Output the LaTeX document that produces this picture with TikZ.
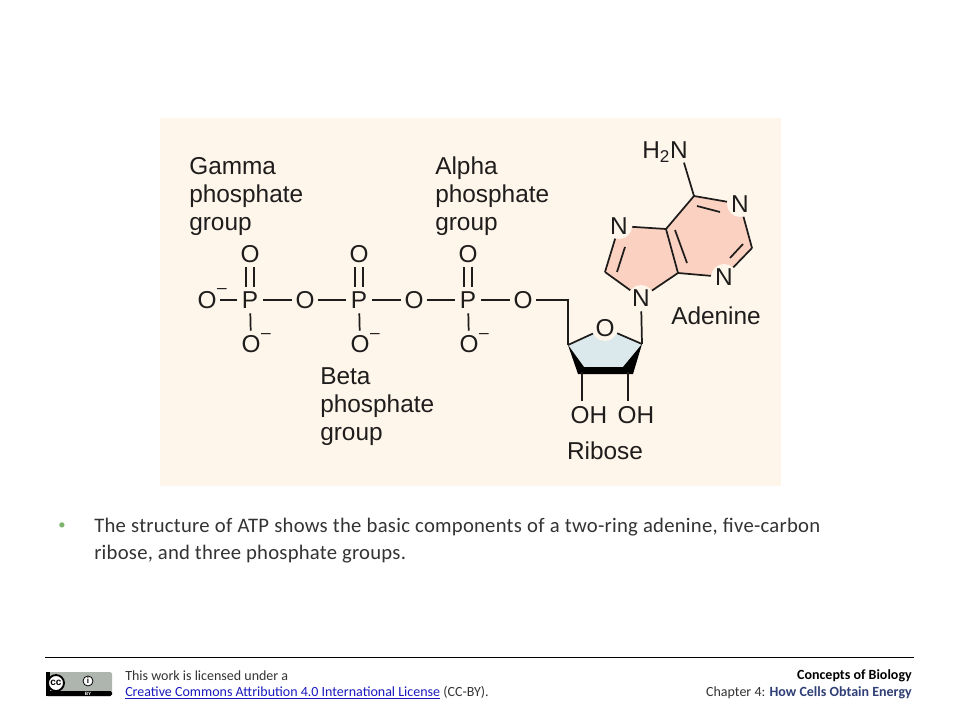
\documentclass[tikz,border=0pt]{standalone}
\usepackage{fontspec}
\setmainfont{Liberation Sans}
\newfontfamily\carl{Carlito}
\newfontfamily\carlbody[LetterSpace=1.2]{Carlito}
\definecolor{panelbg}{HTML}{FEF5EB}
\definecolor{pinkfill}{HTML}{FBD2C2}
\definecolor{bluefill}{HTML}{DCE9EC}
\definecolor{ink}{HTML}{1F1D1C}
\definecolor{bodyc}{HTML}{333333}
\definecolor{bulletc}{HTML}{7DB46C}
\definecolor{linkc}{HTML}{1A1AC0}
\definecolor{navyc}{HTML}{2F3F77}
\definecolor{badge}{HTML}{AEB4AE}
\tikzset{
  atom/.style={circle,inner sep=0pt,minimum size=19.5pt,fill=panelbg,text=ink,font=\fontsize{18.3}{21}\selectfont},
  chem/.style={inner sep=0pt,text=ink,font=\fontsize{18.3}{21}\selectfont},
  lbl/.style={inner sep=0pt,text=ink,align=left,anchor=west,font=\fontsize{18.3}{21}\selectfont},
  charge/.style={inner sep=0pt,text=ink,font=\fontsize{13}{13}\selectfont},
  bond/.style={draw=ink,line width=1.3pt},
  foot/.style={inner sep=0pt,text=bodyc,font=\carl\fontsize{10.5}{12}\selectfont},
}
\begin{document}
\begin{tikzpicture}[x=0.75pt,y=-0.75pt]
\useasboundingbox (0,0) rectangle (960,720);
\fill[white] (0,0) rectangle (960,720);
\fill[panelbg] (160,118) rectangle (781,486);
% ring fills
\fill[pinkfill] (694,196) -- (740,204) -- (752,248) -- (724,277) -- (678,273) -- (641,298) -- (605,272) -- (619,226) -- (666,229) -- cycle;
\fill[bluefill] (568,345) -- (605,328) -- (642,344) -- (623,367) -- (584,367) -- cycle;
% labels
\node[lbl] (gamma) at (189,197) {Gamma\\phosphate\\group};
\node[lbl] (alpha) at (435,196) {Alpha\\phosphate\\group};
\node[lbl] (beta) at (320,407) {Beta\\phosphate\\group};
\node[lbl] (adeninelbl) at (671,316) {Adenine};
\node[chem] (riboselbl) at (605,451) {Ribose};
% phosphate atoms
\node[atom] (Oa) at (207,300) {O};
\node[atom] (P1) at (250,300) {P};
\node[atom] (O12) at (305,300) {O};
\node[atom] (P2) at (359,300) {P};
\node[atom] (O23) at (414,300) {O};
\node[atom] (P3) at (468,300) {P};
\node[atom] (O35) at (523,300) {O};
\node[atom] (T1) at (250,254) {O};
\node[atom] (T2) at (359,254) {O};
\node[atom] (T3) at (468,254) {O};
\node[atom] (B1) at (251,344) {O};
\node[atom] (B2) at (360,344) {O};
\node[atom] (B3) at (469,344) {O};
\node[charge] (m0) at (222,291) {–};
\node[charge] (m1) at (266,336) {–};
\node[charge] (m2) at (375,336) {–};
\node[charge] (m3) at (484,336) {–};
\draw[bond] (Oa) -- (P1);
\draw[bond] (P1) -- (O12);
\draw[bond] (O12) -- (P2);
\draw[bond] (P2) -- (O23);
\draw[bond] (O23) -- (P3);
\draw[bond] (P3) -- (O35);
\foreach \t/\p/\b in {T1/P1/B1,T2/P2/B2,T3/P3/B3}{
  \draw[bond] ([xshift=-3pt]\t.south) -- ([xshift=-3pt]\p.north);
  \draw[bond] ([xshift=3pt]\t.south) -- ([xshift=3pt]\p.north);
  \draw[bond] (\p) -- (\b);
}
% ribose
\coordinate (cfive) at (568,300);
\coordinate (r1) at (568,345);
\coordinate (r3) at (642,344);
\coordinate (r4) at (582,372);
\coordinate (r5) at (628,372);
\fill[black] (568,345) -- (578,374) -- (633,374) -- (642,344) -- (623,367) -- (584,367) -- cycle;
\node[atom] (Or) at (605,328) {O};
\node[chem] (oh1) at (589,415) {OH};
\node[chem] (oh2) at (636,415) {OH};
\draw[bond] (O35) -- (cfive) -- (r1);
\draw[bond] (r1) -- (Or);
\draw[bond] (Or) -- (r3);
\draw[bond] (r4) -- ([yshift=4pt]r4 |- oh1.north);
\draw[bond] (r5) -- ([yshift=4pt]r5 |- oh2.north);
% adenine
\coordinate (c6) at (694,196);
\coordinate (c2) at (752,248);
\coordinate (c4) at (678,273);
\coordinate (c5) at (666,229);
\coordinate (c8) at (605,272);
\node[atom] (N1) at (740,204) {N};
\node[atom] (N3) at (724,277) {N};
\node[atom] (N7) at (619,226) {N};
\node[atom] (N9) at (641,298) {N};
\node[chem] (nh) at (665,152) {H\textsubscript{2}N};
\draw[bond] (N9) -- (r3);
\draw[bond] ([xshift=-3pt]nh.south east) -- (c6);
\draw[bond] (c6) -- (N1);
\draw[bond] (N1) -- (c2);
\draw[bond] (c2) -- (N3);
\draw[bond] (N3) -- (c4);
\draw[bond] (c4) -- (c5);
\draw[bond] (c5) -- (c6);
\draw[bond] (c5) -- (N7);
\draw[bond] (N7) -- (c8);
\draw[bond] (c8) -- (N9);
\draw[bond] (N9) -- (c4);
\draw[bond] (697,206) -- (720,212);
\draw[bond] (743,244) -- (730,258);
\draw[bond] (675,230) -- (687,263);
\draw[bond] (625,247) -- (617,272);
% body
\node[inner sep=0pt,text=bulletc,font=\carl\fontsize{11}{20}\selectfont] (bullet) at (62,526) {•};
\node[inner sep=0pt,anchor=north west,text width=544.5pt,text=bodyc,font=\carlbody\fontsize{15.5}{20.2}\selectfont,align=justify] (body) at (94,518)
 {The structure of ATP shows the basic components of a two-ring adenine, five-carbon\linebreak ribose, and three phosphate groups.};
% footer
\coordinate (ruleL) at (45,657);
\coordinate (ruleR) at (914,657);
\draw[black,line width=0.6pt] (ruleL) -- (ruleR);
\fill[badge,rounded corners=1.2pt] (46,672) rectangle (112,696);
\fill[black,rounded corners=1.2pt] (46,691) rectangle (112,696);
\fill[black] (46,672) rectangle (50,696);
\node[circle,fill=white,draw=black,line width=1.4pt,inner sep=0pt,minimum size=12pt,font=\fontsize{7.5}{8}\bfseries\selectfont] (cc) at (56,683) {cc};
\node[circle,fill=white,draw=black,line width=0.6pt,inner sep=0pt,minimum size=7.5pt,font=\fontsize{6}{6}\bfseries\selectfont] (info) at (88,681) {i};
\node[inner sep=0pt,text=white,font=\fontsize{3.5}{4}\bfseries\selectfont] (by) at (88,693.5) {BY};
\node[foot,anchor=west] (lic1) at (125,675.5) {This work is licensed under a};
\node[foot,anchor=west] (lic2) at (125,692.5) {\textcolor{linkc}{\underline{Creative Commons Attribution 4.0 International License}} (CC-BY).};
\node[foot,anchor=east,text=black] (book) at (912,675.5) {\bfseries Concepts of Biology};
\node[foot,anchor=east] (chap) at (912,692.5) {Chapter 4: \textcolor{navyc}{\bfseries How Cells Obtain Energy}};
\end{tikzpicture}
\end{document}
